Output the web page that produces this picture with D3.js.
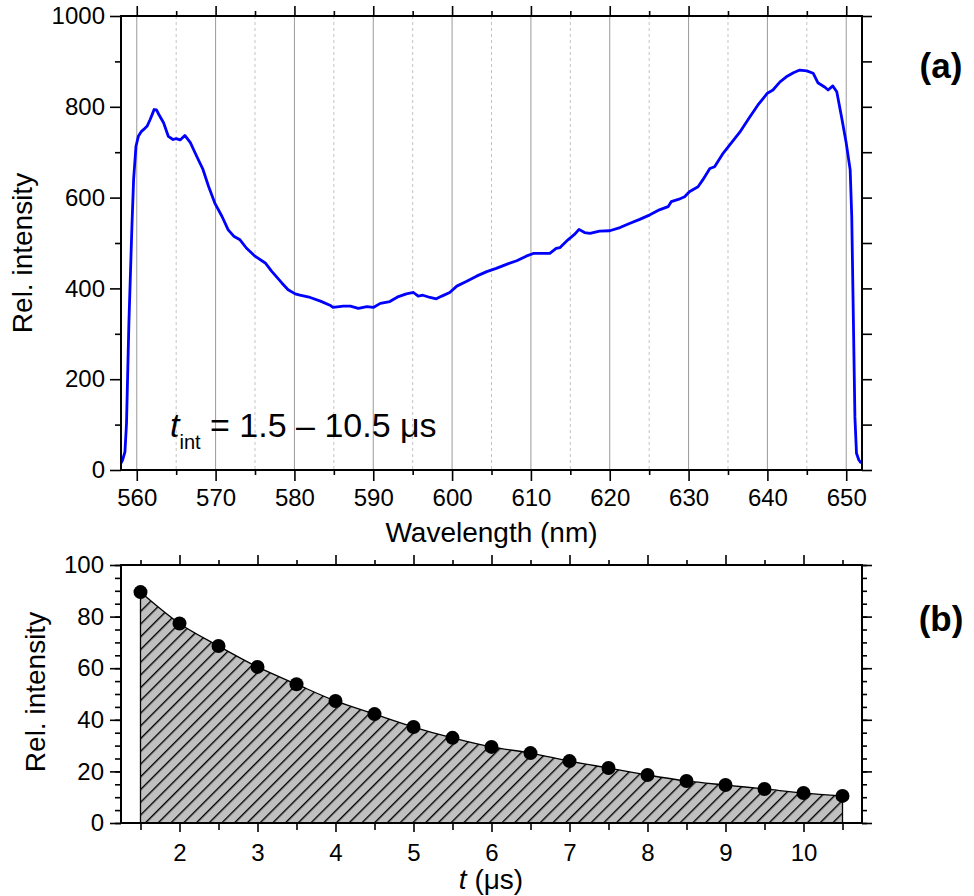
<!DOCTYPE html>
<html>
<head>
<meta charset="utf-8">
<script src="https://cdn.jsdelivr.net/npm/d3@7"></script>
<style>
  body { margin: 0; background: #fff; }
  text { font-family: "Liberation Sans", Arial, sans-serif; fill: #000; }
</style>
</head>
<body>
<script>
// spectrum
const wavelength = [
  558.0, 558.2, 558.5, 558.7, 559.0, 559.4, 559.6, 559.9, 560.2, 560.6,
  561.0, 561.3, 561.7, 562.0, 562.2, 562.5, 562.8, 563.4, 564.0, 564.6,
  565.0, 565.5, 566.1, 566.8, 567.6, 568.4, 569.1, 569.9, 570.8, 571.6,
  572.3, 573.1, 573.9, 575.0, 576.3, 577.1, 578.4, 579.2, 580.1, 580.7,
  582.0, 583.3, 584.5, 584.9, 586.2, 587.1, 588.1, 589.2, 590.0, 590.9,
  592.1, 593.2, 594.2, 595.1, 595.7, 596.3, 597.2, 598.0, 598.7, 599.7,
  600.6, 601.8, 603.1, 604.4, 605.6, 606.9, 608.2, 609.4, 610.3, 611.6,
  612.4, 613.2, 613.7, 614.7, 615.6, 616.1, 616.8, 617.5, 618.7, 620.0,
  621.3, 622.5, 623.8, 625.1, 626.3, 627.4, 627.8, 628.7, 629.5, 630.1,
  631.2, 631.8, 632.7, 633.3, 634.4, 635.4, 636.5, 637.7, 638.8, 640.0,
  640.7, 641.6, 642.4, 643.3, 644.1, 645.0, 645.8, 646.4, 647.3, 647.7,
  648.3, 648.8, 649.4, 650.0, 650.5, 650.7, 650.9, 651.1, 651.3, 651.6,
  651.9
];
const intensity = [
  15, 22, 40, 103, 323, 544, 640, 713, 735, 746,
  752, 757, 772, 785, 794, 793, 783, 765, 735, 728,
  730, 727, 737, 721, 691, 662, 625, 588, 559, 529,
  515, 507, 489, 471, 456, 438, 412, 397, 388, 385,
  380, 372, 363, 358, 361, 361, 356, 360, 358, 367,
  371, 382, 388, 391, 383, 385, 380, 377, 383, 391,
  405, 415, 427, 437, 444, 453, 461, 471, 477, 477,
  477, 488, 490, 507, 520, 530, 523, 521, 526, 527,
  534, 543, 552, 562, 573, 580, 591, 596, 602, 613,
  624, 639, 664, 668, 698, 720, 744, 776, 804, 830,
  837, 855, 866, 875, 881, 879, 874, 853, 843, 837,
  846, 833, 778, 720, 661, 558, 338, 117, 37, 22,
  15
];
const spectrumTicks = [560, 570, 580, 590, 600, 610, 620, 630, 640, 650];
const spectrumMinor = [565, 575, 585, 595, 605, 615, 625, 635, 645];
const intensityTicks = [0, 200, 400, 600, 800, 1000];
const intensityMinor = [100, 300, 500, 700, 900];

// decay
const decayTime = [1.5, 2, 2.5, 3, 3.5, 4, 4.5, 5, 5.5, 6, 6.5, 7, 7.5, 8, 8.5, 9, 9.5, 10, 10.5];
const decayIntensity = [89.5, 77.3, 68.6, 60.5, 53.8, 47.3, 42.2, 37.2, 33, 29.5, 27.1, 24, 21.3, 18.6, 16.3, 14.7, 13.2, 11.6, 10.5];
const timeTicks = [2, 3, 4, 5, 6, 7, 8, 9, 10];
const decayTicks = [0, 20, 40, 60, 80, 100];

const width = 974;
const height = 896;
const panelA = { left: 121, right: 862, top: 16, bottom: 470 };
const panelB = { left: 121, right: 862, top: 565, bottom: 823 };
const tickFont = 24;
const titleFont = 28;
const hatchGap = 9;

const svg = d3.select("body").append("svg")
  .attr("width", width)
  .attr("height", height);

const defs = svg.append("defs");
const hatch = defs.append("pattern")
  .attr("id", "hatch")
  .attr("patternUnits", "userSpaceOnUse")
  .attr("width", hatchGap)
  .attr("height", hatchGap)
  .attr("patternTransform", "rotate(45)");
hatch.append("rect").attr("width", hatchGap).attr("height", hatchGap).attr("fill", "#c0c0c0");
hatch.append("line")
  .attr("x1", 0.7).attr("x2", 0.7).attr("y1", 0).attr("y2", hatchGap)
  .attr("stroke", "#000").attr("stroke-width", 1.4);

function styleAxis(g) {
  g.select(".domain").remove();
  g.selectAll("line").attr("stroke", "#000").attr("stroke-width", 1.6);
  g.selectAll("text").attr("font-size", tickFont).attr("fill", "#000")
    .attr("font-family", "'Liberation Sans', Arial, sans-serif");
}

// ---------- panel (a) ----------
const x1 = d3.scaleLinear().domain([558, 652]).range([panelA.left, panelA.right]);
const y1 = d3.scaleLinear().domain([0, 1000]).range([panelA.bottom, panelA.top]);

const grid = svg.append("g");
grid.selectAll(".major").data(spectrumTicks).join("line")
  .attr("class", "major")
  .attr("x1", d => x1(d)).attr("x2", d => x1(d))
  .attr("y1", panelA.top).attr("y2", panelA.bottom)
  .attr("stroke", "#9a9a9a").attr("stroke-width", 1);
grid.selectAll(".minor").data(spectrumMinor).join("line")
  .attr("class", "minor")
  .attr("x1", d => x1(d)).attr("x2", d => x1(d))
  .attr("y1", panelA.top).attr("y2", panelA.bottom)
  .attr("stroke", "#c4c4c4").attr("stroke-width", 1)
  .attr("stroke-dasharray", "3,3");

const spectrum = wavelength.map((w, i) => ({ w, v: intensity[i] }));
svg.append("path")
  .datum(spectrum)
  .attr("fill", "none")
  .attr("stroke", "#0000ff")
  .attr("stroke-width", 2.8)
  .attr("stroke-linejoin", "round")
  .attr("d", d3.line().x(d => x1(d.w)).y(d => y1(d.v)));

svg.append("g").attr("transform", `translate(0,${panelA.bottom})`)
  .call(d3.axisBottom(x1).tickValues(spectrumTicks).tickSize(11).tickPadding(8).tickFormat(d3.format("d")))
  .call(styleAxis);
svg.append("g").attr("transform", `translate(0,${panelA.bottom})`)
  .call(d3.axisBottom(x1).tickValues(spectrumMinor).tickSize(5).tickFormat(""))
  .call(styleAxis);
svg.append("g").attr("transform", `translate(0,${panelA.top})`)
  .call(d3.axisTop(x1).tickValues(spectrumTicks).tickSize(10).tickFormat(""))
  .call(styleAxis);
svg.append("g").attr("transform", `translate(0,${panelA.top})`)
  .call(d3.axisTop(x1).tickValues(spectrumMinor).tickSize(5).tickFormat(""))
  .call(styleAxis);
svg.append("g").attr("transform", `translate(${panelA.left},0)`)
  .call(d3.axisLeft(y1).tickValues(intensityTicks).tickSize(11).tickPadding(5).tickFormat(d3.format("d")))
  .call(styleAxis);
svg.append("g").attr("transform", `translate(${panelA.left},0)`)
  .call(d3.axisLeft(y1).tickValues(intensityMinor).tickSize(6).tickFormat(""))
  .call(styleAxis);
svg.append("g").attr("transform", `translate(${panelA.right},0)`)
  .call(d3.axisRight(y1).ticks(10).tickSize(10).tickFormat(""))
  .call(styleAxis);

svg.append("rect")
  .attr("x", panelA.left).attr("y", panelA.top)
  .attr("width", panelA.right - panelA.left).attr("height", panelA.bottom - panelA.top)
  .attr("fill", "none").attr("stroke", "#000").attr("stroke-width", 2);

svg.append("text")
  .attr("transform", `translate(32,${(panelA.top + panelA.bottom) / 2 + 10}) rotate(-90)`)
  .attr("text-anchor", "middle")
  .attr("font-size", titleFont)
  .text("Rel. intensity");

svg.append("text")
  .attr("x", (panelA.left + panelA.right) / 2).attr("y", 542)
  .attr("text-anchor", "middle")
  .attr("font-size", titleFont)
  .text("Wavelength (nm)");

const note = svg.append("text").attr("x", 170).attr("y", 437).attr("font-size", 34);
note.append("tspan").attr("font-style", "italic").text("t");
note.append("tspan").attr("font-size", 20).attr("dy", 12).text("int");
note.append("tspan").attr("dy", -12).text(" = 1.5 \u2013 10.5 \u03bcs");

svg.append("text")
  .attr("x", 941).attr("y", 78)
  .attr("text-anchor", "middle")
  .attr("font-size", 35).attr("font-weight", "bold")
  .text("(a)");

// ---------- panel (b) ----------
const x2 = d3.scaleLinear().domain([1.25, 10.75]).range([panelB.left, panelB.right]);
const y2 = d3.scaleLinear().domain([0, 100]).range([panelB.bottom, panelB.top]);

const decay = decayTime.map((t, i) => ({ t, v: decayIntensity[i] }));

svg.append("path")
  .datum(decay)
  .attr("fill", "url(#hatch)")
  .attr("stroke", "#000")
  .attr("stroke-width", 1.3)
  .attr("d", d3.area().x(d => x2(d.t)).y0(y2(0)).y1(d => y2(d.v)).curve(d3.curveMonotoneX));

svg.selectAll(".dot").data(decay).join("circle")
  .attr("class", "dot")
  .attr("cx", d => x2(d.t)).attr("cy", d => y2(d.v))
  .attr("r", 7).attr("fill", "#000");

const halfTicks = decayTime.filter(t => t % 1 !== 0);

svg.append("g").attr("transform", `translate(0,${panelB.bottom})`)
  .call(d3.axisBottom(x2).tickValues(timeTicks).tickSize(9).tickPadding(12).tickFormat(d3.format("d")))
  .call(styleAxis);
svg.append("g").attr("transform", `translate(0,${panelB.bottom})`)
  .call(d3.axisBottom(x2).tickValues(halfTicks).tickSize(7).tickFormat(""))
  .call(styleAxis);
svg.append("g").attr("transform", `translate(0,${panelB.top})`)
  .call(d3.axisTop(x2).tickValues(timeTicks).tickSize(10).tickFormat(""))
  .call(styleAxis);
svg.append("g").attr("transform", `translate(0,${panelB.top})`)
  .call(d3.axisTop(x2).tickValues(halfTicks).tickSize(5).tickFormat(""))
  .call(styleAxis);
svg.append("g").attr("transform", `translate(${panelB.left},0)`)
  .call(d3.axisLeft(y2).tickValues(decayTicks).tickSize(11).tickPadding(6))
  .call(styleAxis);
svg.append("g").attr("transform", `translate(${panelB.left},0)`)
  .call(d3.axisLeft(y2).ticks(20).tickSize(6).tickFormat(""))
  .call(styleAxis);
svg.append("g").attr("transform", `translate(${panelB.right},0)`)
  .call(d3.axisRight(y2).tickValues(decayTicks).tickSize(10).tickFormat(""))
  .call(styleAxis);
svg.append("g").attr("transform", `translate(${panelB.right},0)`)
  .call(d3.axisRight(y2).ticks(20).tickSize(5).tickFormat(""))
  .call(styleAxis);

svg.append("rect")
  .attr("x", panelB.left).attr("y", panelB.top)
  .attr("width", panelB.right - panelB.left).attr("height", panelB.bottom - panelB.top)
  .attr("fill", "none").attr("stroke", "#000").attr("stroke-width", 2);

svg.append("text")
  .attr("transform", `translate(45,${(panelB.top + panelB.bottom) / 2 - 2}) rotate(-90)`)
  .attr("text-anchor", "middle")
  .attr("font-size", titleFont)
  .text("Rel. intensity");

const tl = svg.append("text")
  .attr("x", 491).attr("y", 889)
  .attr("text-anchor", "middle")
  .attr("font-size", titleFont);
tl.append("tspan").attr("font-style", "italic").text("t");
tl.append("tspan").text(" (\u03bcs)");

svg.append("text")
  .attr("x", 941).attr("y", 631)
  .attr("text-anchor", "middle")
  .attr("font-size", 35).attr("font-weight", "bold")
  .text("(b)");
</script>
</body>
</html>
